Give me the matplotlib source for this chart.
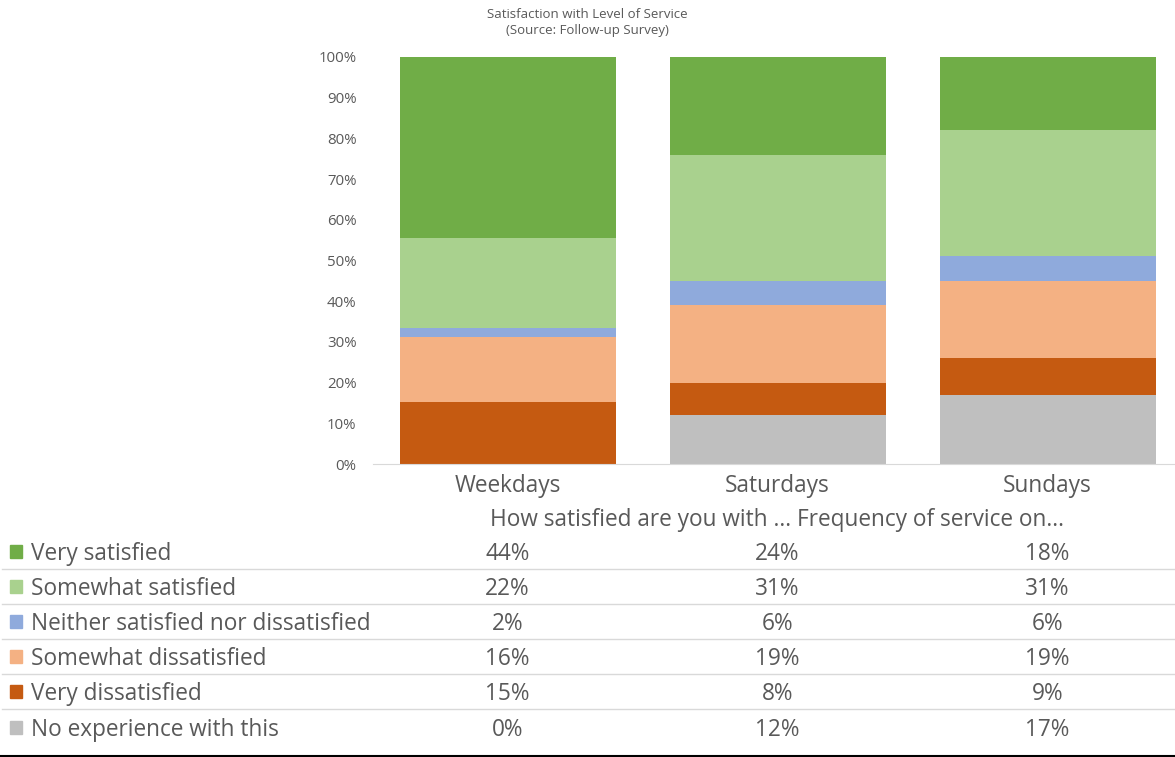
# 100% stacked bar chart with a data table underneath (Excel style)

import matplotlib
matplotlib.use('Agg')
import matplotlib.pyplot as plt
import matplotlib.transforms as mtransforms
from matplotlib.ticker import PercentFormatter
import numpy as np

# Step 1: data
days = ['Weekdays', 'Saturdays', 'Sundays']
responses = ['Very satisfied', 'Somewhat satisfied', 'Neither satisfied nor dissatisfied',
             'Somewhat dissatisfied', 'Very dissatisfied', 'No experience with this']
very_satisfied = [44, 24, 18]
somewhat_satisfied = [22, 31, 31]
neither = [2, 6, 6]
somewhat_dissatisfied = [16, 19, 19]
very_dissatisfied = [15, 8, 9]
no_experience = [0, 12, 17]
colors = ['#70AD47', '#A9D18E', '#8FAADC', '#F4B183', '#C55A11', '#BFBFBF']

series = [very_satisfied, somewhat_satisfied, neither,
          somewhat_dissatisfied, very_dissatisfied, no_experience]

plt.rcParams['font.family'] = ['Open Sans', 'DejaVu Sans']
text_color = '#595959'
big = 16.3

# Step 2: figure and axes placement
W, H = 1175, 757
fig = plt.figure(figsize=(W / 100, H / 100), dpi=100)
ax = fig.add_axes([372.5 / W, 1 - 464 / H, 810 / W, 407 / H])

# Step 3: stacked bars, bottom series is the last in the list
values = np.array(series, dtype=float)
shares = values / values.sum(axis=0)
x = np.arange(len(days))
bottom = np.zeros(len(days))
for i in range(len(series) - 1, -1, -1):
    ax.bar(x, shares[i], 0.8, bottom=bottom, color=colors[i], linewidth=0)
    bottom += shares[i]

ax.set_xlim(-0.5, len(days) - 0.5)
ax.set_ylim(0, 1)
ax.set_yticks(np.arange(0, 1.01, 0.1))
ax.yaxis.set_major_formatter(PercentFormatter(1.0, decimals=0))
ax.tick_params(axis='y', length=0, pad=11.5, labelsize=10.8, labelcolor=text_color)
ax.set_xticks(x)
ax.set_xticklabels(days)
ax.tick_params(axis='x', length=0, pad=7, labelsize=big, labelcolor=text_color)
for side in ['top', 'right', 'left']:
    ax.spines[side].set_visible(False)
ax.spines['bottom'].set_color('#D9D9D9')

fig.text(0.5, 1 - 22.5 / H, 'Satisfaction with Level of Service\n(Source: Follow-up Survey)',
         ha='center', va='center', fontsize=9.5, color=text_color, linespacing=1.3)

# Step 4: data table below the chart
trans = mtransforms.blended_transform_factory(ax.transData, fig.transFigure)
ax.text(1, 1 - 517 / H, 'How satisfied are you with ... Frequency of service on...',
        transform=trans, ha='center', va='center_baseline', fontsize=big, color=text_color)

row_y = [551, 586, 621, 656, 691, 727]
for r, name in enumerate(responses):
    y = 1 - row_y[r] / H
    fig.patches.append(plt.Rectangle((10 / W, y - 6.5 / H), 12 / W, 13 / H,
                                     transform=fig.transFigure, color=colors[r]))
    fig.text(31 / W, y, name, ha='left', va='center_baseline', fontsize=big, color=text_color)
    for c in range(len(days)):
        ax.text(x[c], y, f'{series[r][c]}%', transform=trans, ha='center',
                va='center_baseline', fontsize=big, color=text_color)
    if r < len(responses) - 1:
        ly = 1 - (row_y[r] + 17.5) / H
        fig.add_artist(plt.Line2D([2 / W, 1], [ly, ly], transform=fig.transFigure,
                                  color='#D9D9D9', linewidth=1))

fig.add_artist(plt.Line2D([0, 1], [1 - 756 / H, 1 - 756 / H], transform=fig.transFigure,
                          color='black', linewidth=1.5))

plt.savefig('out.png', dpi=100)
